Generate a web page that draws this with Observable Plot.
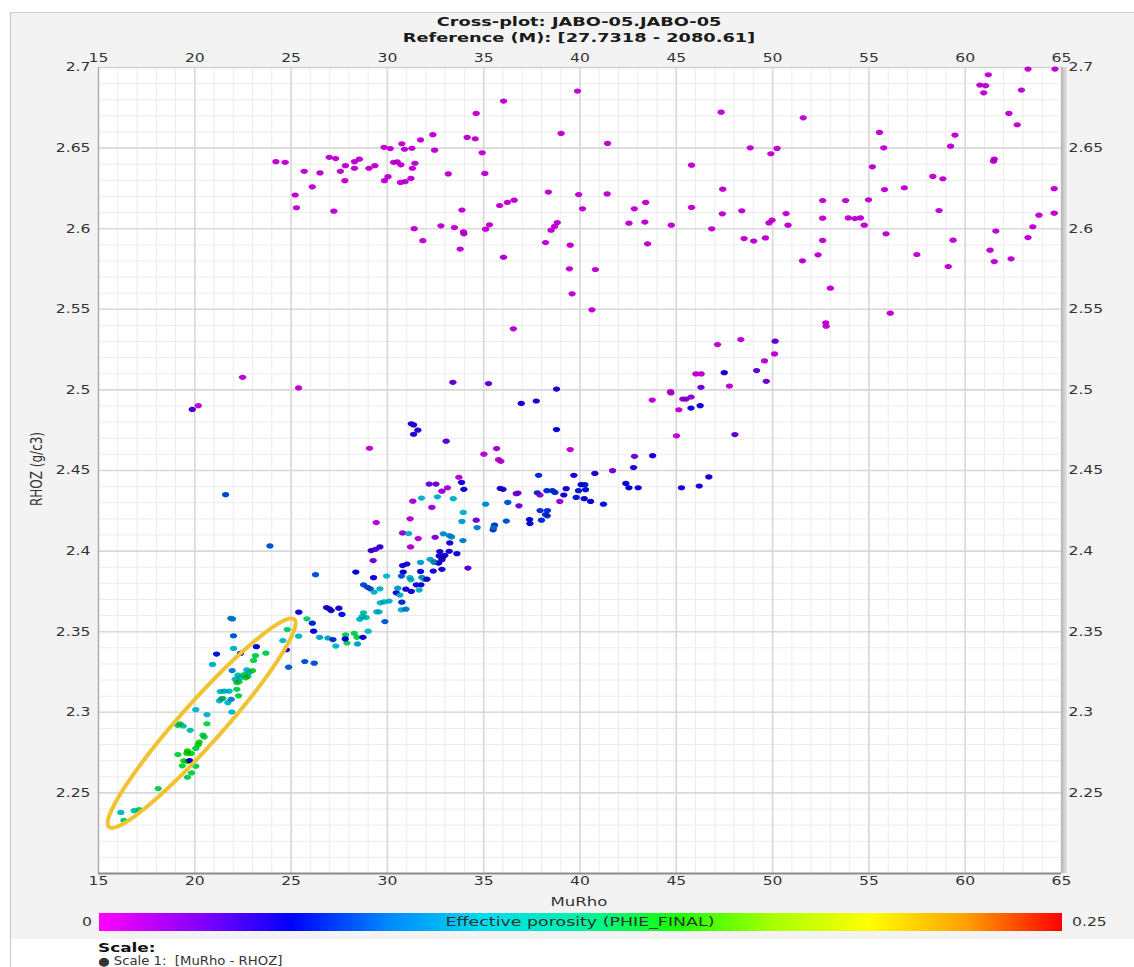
<!DOCTYPE html>
<html><head><meta charset="utf-8">
<script src="https://cdn.jsdelivr.net/npm/d3@7"></script>
<script src="https://cdn.jsdelivr.net/npm/@observablehq/plot@0.6"></script>
<style>
body{margin:0;background:#fff;font-family:"DejaVu Sans",sans-serif;}
#root{position:relative;width:1134px;height:967px;overflow:hidden;background:#fff;}
.abs{position:absolute;white-space:pre;line-height:1;}
#root svg{position:absolute;left:0;top:0;}
</style></head><body><div id="root"></div>
<script>
// ---------- text ----------
const titleLines = ["Cross-plot: JABO-05.JABO-05", "Reference (M): [27.7318 - 2080.61]"];
const xLabel = "MuRho";
const yLabel = "RHOZ (g/c3)";
const colorLabel = "Effective porosity (PHIE_FINAL)";
const colorEnds = ["0", "0.25"];
const legendTitle = "Scale:";
const legendItem = "Scale 1:  [MuRho - RHOZ]";

// ---------- axes ----------
const xDomain = [15, 65];
const yDomain = [2.2, 2.7];
const xTicks = [15, 20, 25, 30, 35, 40, 45, 50, 55, 60, 65];
const yTicks = [2.25, 2.3, 2.35, 2.4, 2.45, 2.5, 2.55, 2.6, 2.65, 2.7];
const xMinor = d3.range(15, 65.001, 1);
const yMinor = d3.range(0, 51).map(i => +(2.2 + i * 0.01).toFixed(2));

// ---------- colour scale (PHIE) ----------
const phieStops = [0, 0.025, 0.05, 0.075, 0.1, 0.125, 0.15, 0.175, 0.2, 0.225, 0.25];
const colorStops = ["#ff00ff", "#8c00ff", "#0000ff", "#0088ff", "#00dcf0", "#00f2a8", "#18ff00", "#a8ff00", "#ffff00", "#ffa000", "#ff0000"];

// ---------- annotation ellipse (tips in data units) ----------
const ellipseTips = [[15.50, 2.2276], [25.26, 2.3583]];
const ellipseHalfWidth = 21;
const ellipseColor = "#f1c232";

// ---------- data: [MuRho, RHOZ, PHIE] ----------
const upperLeftCloud = [
[24.21,2.6416,0.005],[24.69,2.6412,0.005],[25.68,2.6356,0.005],[26.50,2.6346,0.005],[26.98,2.6443,0.005],[27.31,2.6435,0.005],
[26.10,2.6260,0.005],[25.21,2.6209,0.005],[25.28,2.6130,0.005],[27.22,2.6109,0.005],[27.56,2.6356,0.005],[27.82,2.6391,0.005],
[27.79,2.6298,0.005],[28.29,2.6375,0.005],[28.29,2.6416,0.005],[28.54,2.6431,0.005],[29.04,2.6375,0.005],[29.35,2.6391,0.005],
[29.83,2.6505,0.005],[30.15,2.6497,0.005],[30.75,2.6527,0.005],[30.89,2.6493,0.005],[31.27,2.6499,0.005],[31.72,2.6551,0.005],
[32.36,2.6583,0.005],[32.45,2.6487,0.005],[30.32,2.6412,0.005],[30.51,2.6414,0.005],[30.70,2.6396,0.005],[31.43,2.6406,0.005],
[31.30,2.6375,0.005],[30.03,2.6323,0.005],[29.85,2.6298,0.005],[30.68,2.6287,0.005],[30.92,2.6292,0.005],[31.22,2.6312,0.005],
[33.16,2.6340,0.005],[34.61,2.6715,0.005],[34.14,2.6566,0.005],[34.56,2.6558,0.005],[33.87,2.6116,0.005],[31.39,2.6000,0.005],
[31.84,2.5926,0.005],[32.78,2.6018,0.005],[33.48,2.6007,0.005],[33.95,2.5980,0.005],[33.97,2.5968,0.005],[33.78,2.5874,0.005]
];
const upperRightCloud = [
[34.92,2.6471,0.005],[35.06,2.6343,0.005],[36.03,2.6792,0.005],[39.87,2.6854,0.005],[47.33,2.6723,0.005],[51.59,2.6688,0.005],
[39.02,2.6591,0.005],[41.43,2.6529,0.005],[45.79,2.6394,0.005],[48.84,2.6502,0.005],[49.91,2.6465,0.005],[50.23,2.6498,0.005],
[55.55,2.6597,0.005],[55.77,2.6502,0.005],[55.18,2.6384,0.005],[59.47,2.6581,0.005],[59.24,2.6512,0.005],[61.51,2.6432,0.005],
[61.47,2.6419,0.005],[58.32,2.6324,0.005],[58.84,2.6310,0.005],[56.84,2.6254,0.005],[55.81,2.6243,0.005],[64.62,2.6248,0.005],
[60.76,2.6891,0.005],[61.06,2.6887,0.005],[60.96,2.6843,0.005],[61.20,2.6955,0.005],[63.26,2.6990,0.005],[64.66,2.6990,0.005],
[62.92,2.6860,0.005],[62.27,2.6715,0.005],[62.70,2.6645,0.005],[38.36,2.6227,0.005],[39.93,2.6212,0.005],[41.41,2.6216,0.005],
[35.83,2.6144,0.005],[36.23,2.6163,0.005],[36.58,2.6177,0.005],[40.13,2.6123,0.005],[42.82,2.6123,0.005],[43.41,2.6163,0.005],
[45.79,2.6132,0.005],[47.41,2.6245,0.005],[47.39,2.6092,0.005],[48.40,2.6111,0.005],[52.60,2.6175,0.005],[53.79,2.6175,0.005],
[54.98,2.6179,0.005],[58.64,2.6113,0.005],[63.83,2.6084,0.005],[64.62,2.6096,0.005],[35.10,2.5997,0.005],[35.30,2.6024,0.005],
[38.50,2.5991,0.005],[38.68,2.6014,0.005],[38.82,2.6038,0.005],[42.54,2.6034,0.005],[43.37,2.6041,0.005],[44.74,2.6022,0.005],
[46.84,2.5999,0.005],[49.81,2.6036,0.005],[49.97,2.6053,0.005],[50.70,2.6094,0.005],[50.80,2.6022,0.005],[52.60,2.6065,0.005],
[53.93,2.6067,0.005],[54.27,2.6063,0.005],[54.56,2.6067,0.005],[54.76,2.6022,0.005],[63.51,2.6012,0.005],[55.89,2.5968,0.005],
[61.59,2.5985,0.005],[59.37,2.5929,0.005],[38.21,2.5914,0.005],[39.49,2.5898,0.005],[43.51,2.5906,0.005],[48.52,2.5939,0.005],
[49.02,2.5923,0.005],[49.63,2.5943,0.005],[52.60,2.5927,0.005],[63.26,2.5945,0.005],[36.03,2.5823,0.012],[51.55,2.5801,0.005],
[52.36,2.5838,0.005],[57.49,2.5840,0.005],[61.29,2.5867,0.005],[61.51,2.5796,0.005],[62.38,2.5813,0.005],[59.12,2.5765,0.005],
[39.45,2.5751,0.005],[40.80,2.5747,0.005],[39.59,2.5596,0.005],[53.00,2.5631,0.005],[40.62,2.5497,0.005],[56.11,2.5476,0.005],
[52.76,2.5416,0.005],[52.78,2.5395,0.005],[36.54,2.5379,0.008],[47.14,2.5281,0.005],[48.35,2.5312,0.005],[50.13,2.5302,0.028]
];
const middleBand = [
[25.39,2.5012,0.005],[22.48,2.5078,0.005],[20.18,2.4902,0.005],[19.87,2.4879,0.035],[21.60,2.4350,0.066],[23.90,2.4032,0.068],
[33.40,2.5047,0.028],[35.25,2.5039,0.03],[38.78,2.5005,0.045],[36.95,2.4916,0.045],[37.73,2.4931,0.045],[38.78,2.4754,0.048],
[29.07,2.4638,0.006],[31.24,2.4790,0.04],[31.36,2.4783,0.04],[31.58,2.4750,0.04],[31.36,2.4725,0.042],[33.05,2.4682,0.03],
[35.01,2.4601,0.006],[35.67,2.4636,0.014],[35.77,2.4567,0.006],[35.89,2.4557,0.006],[39.49,2.4630,0.006],
[42.83,2.4588,0.025],[43.77,2.4592,0.045],[42.78,2.4518,0.045],[41.69,2.4499,0.025],[40.77,2.4482,0.045],[39.68,2.4470,0.045],
[37.85,2.4470,0.058],[42.38,2.4420,0.048],[42.54,2.4393,0.048],[43.02,2.4393,0.048],[45.27,2.4393,0.045],[46.19,2.4404,0.045],
[46.69,2.4460,0.045],[48.04,2.4723,0.03],[45.01,2.4715,0.006],[43.75,2.4937,0.006],[44.70,2.4989,0.006],[44.72,2.4981,0.006],
[45.13,2.4877,0.006],[45.34,2.4943,0.018],[45.51,2.4943,0.018],[45.77,2.4956,0.018],[45.76,2.4887,0.045],[46.24,2.4902,0.045],
[46.28,2.5016,0.025],[46.02,2.5099,0.006],[46.29,2.5099,0.006],[47.49,2.5107,0.045],[47.76,2.5024,0.006],[49.17,2.5120,0.03],
[49.58,2.5180,0.006],[49.67,2.5053,0.025],[50.10,2.5223,0.006]
];
const mainTrend = [
[33.71,2.4458,0.008],[33.85,2.4426,0.045],[33.97,2.4383,0.052],[32.17,2.4416,0.026],[32.52,2.4416,0.026],[32.83,2.4372,0.015],
[33.12,2.4393,0.01],[31.32,2.4310,0.01],[31.77,2.4329,0.098],[32.60,2.4337,0.098],[33.42,2.4325,0.098],[32.31,2.4271,0.015],
[33.94,2.4240,0.098],[33.87,2.4184,0.092],[34.61,2.4192,0.025],[34.66,2.4146,0.08],[35.10,2.4291,0.085],[35.86,2.4389,0.045],
[36.00,2.4383,0.045],[36.25,2.4302,0.068],[36.69,2.4356,0.026],[36.78,2.4360,0.026],[36.83,2.4281,0.026],[36.17,2.4186,0.068],
[35.56,2.4161,0.06],[35.49,2.4132,0.06],[35.52,2.4146,0.08],[37.38,2.4196,0.05],[37.40,2.4171,0.05],[37.78,2.4362,0.06],
[37.92,2.4348,0.018],[38.28,2.4375,0.06],[38.57,2.4375,0.06],[38.70,2.4364,0.06],[37.93,2.4252,0.06],[38.31,2.4252,0.06],
[38.21,2.4227,0.06],[38.30,2.4219,0.06],[38.00,2.4192,0.06],[38.95,2.4308,0.015],[39.16,2.4348,0.045],[39.28,2.4387,0.045],
[39.80,2.4333,0.055],[39.92,2.4375,0.055],[40.06,2.4412,0.048],[40.25,2.4412,0.055],[40.29,2.4381,0.055],[40.22,2.4325,0.048],
[40.55,2.4308,0.048],[41.22,2.4291,0.055],[30.79,2.4113,0.015],[31.10,2.4109,0.098],[31.18,2.4200,0.008],[29.42,2.4177,0.008],
[31.60,2.4078,0.008],[32.48,2.4086,0.022],[32.90,2.4107,0.085],[33.21,2.4096,0.085],[33.33,2.4088,0.085],[33.92,2.4065,0.08],
[33.24,2.4051,0.045],[31.20,2.4026,0.008],[29.16,2.4003,0.04],[29.38,2.4011,0.03],[29.61,2.4026,0.04],[29.26,2.3941,0.026],
[32.72,2.3997,0.045],[33.21,2.3999,0.045],[32.69,2.3970,0.045],[32.98,2.3974,0.045],[32.83,2.3947,0.045],[32.45,2.3931,0.045],
[32.66,2.3926,0.045],[32.88,2.3964,0.045],[33.61,2.3984,0.052],[34.18,2.3895,0.03],[28.36,2.3870,0.052],[29.28,2.3835,0.045],
[29.96,2.3845,0.1],[30.79,2.3910,0.045],[31.01,2.3920,0.045],[30.82,2.3870,0.048],[30.73,2.3845,0.068],[31.17,2.3835,0.098],
[31.22,2.3822,0.098],[31.72,2.3930,0.092],[31.72,2.3874,0.045],[32.22,2.3949,0.092],[32.40,2.3932,0.092],[32.38,2.3876,0.045],
[32.83,2.3887,0.045],[31.79,2.3837,0.085],[31.91,2.3824,0.098],[32.05,2.3826,0.045],[31.50,2.3791,0.045],[31.74,2.3791,0.045],
[31.65,2.3758,0.098],[30.96,2.3764,0.045],[31.24,2.3750,0.045],[30.46,2.3741,0.045],[30.54,2.3770,0.092],[30.65,2.3727,0.098],
[30.75,2.3683,0.06],[30.72,2.3636,0.098],[30.96,2.3640,0.08],[30.09,2.3690,0.1],[29.83,2.3685,0.1],[29.63,2.3679,0.1],
[28.76,2.3791,0.066],[28.97,2.3775,0.066],[29.11,2.3766,0.066],[29.31,2.3746,0.098],[29.61,2.3766,0.098],[26.27,2.3854,0.068],
[29.87,2.3563,0.07],[29.44,2.3623,0.1],[29.57,2.3623,0.1],[28.90,2.3588,0.115],[28.76,2.3617,0.115],[28.57,2.3577,0.1],
[28.69,2.3594,0.1],[29.00,2.3503,0.1],[26.84,2.3650,0.045],[26.98,2.3642,0.045],[27.48,2.3646,0.045],[27.64,2.3607,0.055],
[27.08,2.3631,0.045],[25.40,2.3621,0.045],[26.10,2.3553,0.058],[25.82,2.3580,0.132],[26.17,2.3503,0.048],[26.48,2.3465,0.092],
[26.91,2.3461,0.092],[27.17,2.3451,0.06],[27.32,2.3411,0.1],[27.83,2.3480,0.135],[27.90,2.3430,0.135],[28.28,2.3490,0.135],
[28.42,2.3465,0.135],[27.81,2.3455,0.048],[28.45,2.3424,0.092],[28.73,2.3465,0.048],[24.80,2.3513,0.132],[25.39,2.3472,0.1],
[24.57,2.3445,0.1],[25.71,2.3315,0.068],[26.20,2.3305,0.068]
];
const ellipseCluster = [
[21.87,2.3583,0.08],[21.96,2.3579,0.08],[22.01,2.3475,0.068],[21.13,2.3361,0.055],[22.01,2.3396,0.098],[22.37,2.3365,0.052],
[20.92,2.3297,0.098],[23.20,2.3407,0.052],[23.15,2.3351,0.135],[23.05,2.3322,0.135],[23.69,2.3367,0.135],[24.76,2.3388,0.04],
[24.87,2.3280,0.07],[21.94,2.3259,0.08],[22.70,2.3263,0.1],[22.82,2.3247,0.1],[22.56,2.3234,0.138],[23.00,2.3259,0.14],
[22.24,2.3230,0.115],[22.36,2.3214,0.1],[22.18,2.3185,0.138],[22.10,2.3205,0.1],[22.65,2.3214,0.14],[22.75,2.3222,0.14],
[22.30,2.3189,0.14],[22.18,2.3143,0.135],[21.32,2.3129,0.1],[21.53,2.3131,0.1],[21.78,2.3131,0.1],[21.39,2.3085,0.135],
[21.46,2.3085,0.135],[21.28,2.3071,0.1],[21.72,2.3060,0.1],[21.89,2.3081,0.082],[22.27,2.3102,0.135],[21.92,2.3002,0.1],
[20.05,2.3016,0.1],[20.63,2.2985,0.1],[19.12,2.2919,0.135],[19.24,2.2929,0.135],[19.40,2.2915,0.12],[19.76,2.2888,0.115],
[20.23,2.2815,0.148],[20.18,2.2799,0.148],[20.42,2.2859,0.138],[20.49,2.2846,0.138],[20.63,2.2929,0.138],[20.05,2.2776,0.135],
[19.62,2.2761,0.148],[19.81,2.2745,0.148],[19.59,2.2745,0.148],[19.12,2.2738,0.138],[19.43,2.2699,0.148],[19.62,2.2695,0.148],
[19.35,2.2668,0.138],[19.73,2.2701,0.05],[20.05,2.2666,0.135],[19.83,2.2624,0.135],[19.62,2.2597,0.135],[18.10,2.2527,0.135],
[16.16,2.2379,0.1],[16.85,2.2390,0.115],[17.11,2.2396,0.132],[16.32,2.2329,0.128]
];

const points = [...upperLeftCloud, ...upperRightCloud, ...middleBand, ...mainTrend, ...ellipseCluster]
  .map(([muRho, rhoz, phie]) => ({muRho, rhoz, phie}));

// ---------- layout helpers ----------
const root = document.getElementById("root");
function addDiv(css, text) {
  const d = document.createElement("div");
  d.className = "abs";
  Object.assign(d.style, css);
  if (text != null) d.textContent = text;
  root.appendChild(d);
  return d;
}
function centeredText(text, cx, cy, css, s) {
  return addDiv(Object.assign({left: cx + "px", top: cy + "px", transformOrigin: "0 0",
    transform: `scaleX(${s}) translate(-50%,-50%)`}, css), text);
}

// panel backgrounds
addDiv({left: "10px", top: "12px", width: "1124px", height: "926px", background: "#f3f3f3",
        borderTop: "1px solid #cfcfcf"});
addDiv({left: "10px", top: "12px", width: "1px", height: "955px", background: "#c4c4c4"});

// ---------- ellipse symbol for dots (horizontally stretched) ----------
const ovalSymbol = {
  draw(ctx, size) {
    const r = Math.sqrt(size / Math.PI), rx = r * 1.4, ry = r, k = 0.5523;
    ctx.moveTo(rx, 0);
    ctx.bezierCurveTo(rx, k * ry, k * rx, ry, 0, ry);
    ctx.bezierCurveTo(-k * rx, ry, -rx, k * ry, -rx, 0);
    ctx.bezierCurveTo(-rx, -k * ry, -k * rx, -ry, 0, -ry);
    ctx.bezierCurveTo(k * rx, -ry, rx, -k * ry, rx, 0);
    ctx.closePath();
  }
};

const ellipseMark = (index, scales) => {
  const sx = scales.x, sy = scales.y;
  const [[ax, ay], [bx, by]] = ellipseTips;
  const x1 = sx(ax), y1 = sy(ay), x2 = sx(bx), y2 = sy(by);
  const cx = (x1 + x2) / 2, cy = (y1 + y2) / 2;
  const a = Math.hypot(x2 - x1, y2 - y1) / 2 - 2;
  const ang = Math.atan2(y2 - y1, x2 - x1) * 180 / Math.PI;
  const g = d3.create("svg:g");
  g.append("ellipse").attr("cx", cx).attr("cy", cy).attr("rx", a).attr("ry", ellipseHalfWidth)
    .attr("transform", `rotate(${ang},${cx},${cy})`)
    .attr("fill", "none").attr("stroke", ellipseColor).attr("stroke-width", 4);
  return g.node();
};

const fmt = d => String(d);
const chart = Plot.plot({
  width: 1134, height: 910,
  marginLeft: 98, marginRight: 73, marginTop: 67, marginBottom: 37,
  style: {fontFamily: "DejaVu Sans", fontSize: "12px", color: "#333", background: "transparent", overflow: "visible"},
  x: {domain: xDomain},
  y: {domain: yDomain},
  color: {type: "linear", domain: phieStops, range: colorStops, clamp: true},
  marks: [
    Plot.frame({fill: "white", stroke: null}),
    Plot.gridX(xMinor, {stroke: "#ececec", strokeOpacity: 1, strokeWidth: 1}),
    Plot.gridY(yMinor, {stroke: "#ececec", strokeOpacity: 1, strokeWidth: 1}),
    Plot.gridX(xTicks, {stroke: "#d9d9d9", strokeOpacity: 1, strokeWidth: 1.6}),
    Plot.gridY(yTicks, {stroke: "#d9d9d9", strokeOpacity: 1, strokeWidth: 1.6}),
    Plot.ruleY([yDomain[1]], {stroke: "#d0d0d0"}),
    Plot.ruleX([xDomain[0]], {stroke: "#a8a8a8", strokeWidth: 1.2}),
    Plot.ruleY([yDomain[0]], {stroke: "#8c8c8c", strokeWidth: 2}),
    Plot.dot(points, {x: "muRho", y: "rhoz", fill: "phie", r: 2.6, symbol: ovalSymbol}),
    Plot.dot(points, {x: "muRho", y: "rhoz", fill: "black", fillOpacity: 0.16, r: 2.6, symbol: ovalSymbol}),
    ellipseMark,
    Plot.axisX(xTicks, {anchor: "top", tickSize: 0, tickPadding: 6, tickFormat: fmt, label: null}),
    Plot.axisX(xTicks, {anchor: "bottom", tickSize: 0, tickPadding: 3, tickFormat: fmt, label: null}),
    Plot.axisY(yTicks, {anchor: "left", tickSize: 0, tickPadding: 8, tickFormat: fmt, label: null}),
    Plot.axisY(yTicks, {anchor: "right", tickSize: 0, tickPadding: 7, tickFormat: fmt, label: null})
  ]
});
root.appendChild(chart);

// stretch tick labels horizontally (about their own anchor) to match the reference's wide glyphs
chart.querySelectorAll('g[aria-label$="tick label"] text').forEach(t => {
  const tr = t.getAttribute("transform");
  if (tr && /translate/.test(tr)) t.setAttribute("transform", tr + " scale(1.3,1)");
});

// right-edge shadow strip
addDiv({left: "1061px", top: "67px", width: "6px", height: "806px",
        background: "linear-gradient(to right,#b4b4b4,#e6e6e6)"});

// titles
centeredText(titleLines[0], 579, 22, {fontWeight: "bold", fontSize: "12.5px", color: "#1a1a1a"}, 1.42);
centeredText(titleLines[1], 579, 38, {fontWeight: "bold", fontSize: "12.5px", color: "#1a1a1a"}, 1.42);

// axis labels
centeredText(xLabel, 579, 902, {fontSize: "12px", color: "#333"}, 1.38);
addDiv({left: "37px", top: "469px", fontSize: "12px", color: "#333",
        transform: "translate(-50%,-50%) scaleX(1.3) rotate(-90deg)"}, yLabel);

// colour bar
const grad = phieStops.map((p, i) => `${colorStops[i]} ${(p / phieStops[phieStops.length - 1] * 100).toFixed(2)}%`).join(",");
addDiv({left: "99px", top: "913px", width: "963px", height: "18px", background: `linear-gradient(to right,${grad})`});
centeredText(colorLabel, 580, 922, {fontSize: "12px", color: "#333"}, 1.45);
addDiv({left: "92px", top: "922px", fontSize: "12px", color: "#333", transformOrigin: "100% 50%",
        transform: "translate(-100%,-50%) scaleX(1.3)"}, colorEnds[0]);
addDiv({left: "1072px", top: "922px", fontSize: "12px", color: "#333", transformOrigin: "0 50%",
        transform: "translateY(-50%) scaleX(1.3)"}, colorEnds[1]);

// legend
addDiv({left: "98px", top: "948px", fontSize: "12.5px", fontWeight: "bold", color: "#111", transformOrigin: "0 50%",
        transform: "translateY(-50%) scaleX(1.35)"}, legendTitle);
addDiv({left: "98px", top: "962px", fontSize: "11.5px", color: "#333", transformOrigin: "0 50%",
        transform: "translateY(-50%) scaleX(1.15)"}, "\u25CF " + legendItem);
</script></body></html>
